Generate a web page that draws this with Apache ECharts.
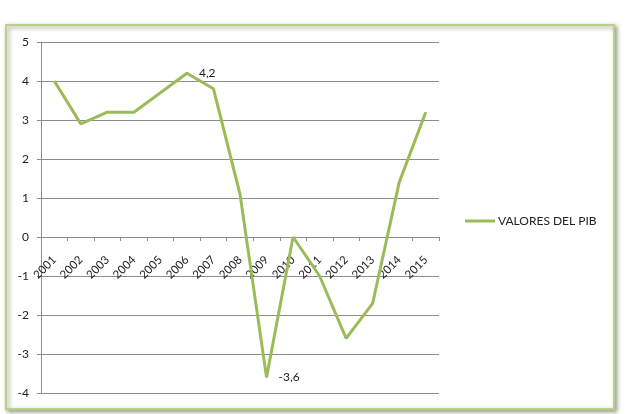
<!DOCTYPE html>
<html>
<head>
<meta charset="utf-8">
<script src="https://cdn.jsdelivr.net/npm/echarts@6/dist/echarts.min.js"></script>
<style>
  html, body { margin: 0; padding: 0; background: #fff; }
  #chart { width: 626px; height: 414px; }
</style>
</head>
<body>
<div id="chart"></div>
<script>
// data
const years = ["2001", "2002", "2003", "2004", "2005", "2006", "2007", "2008",
  "2009", "2010", "2011", "2012", "2013", "2014", "2015"];
const pib = [4.0, 2.9, 3.2, 3.2, 3.7, 4.2, 3.8, 1.1, -3.6, 0.0, -1.0, -2.6, -1.7, 1.4, 3.2];
const labeledYears = ["2006", "2009"];
const yTicks = { min: -4, max: 5, interval: 1 };

const green = "#9bbb59";
const textColor = "#222";
const font = "Lato, 'Open Sans', sans-serif";

const gridBox = { left: 41, right: 187, top: 42, bottom: 21 };
const plotHeight = 414 - gridBox.top - gridBox.bottom;
// the x axis sits on the zero line, like the Excel original
const zeroOffset = -plotHeight * (0 - yTicks.min) / (yTicks.max - yTicks.min);

const seriesData = pib.map((v, i) => {
  const item = { value: v };
  if (labeledYears.includes(years[i])) {
    item.label = { show: true };
  }
  return item;
});

const chart = echarts.init(document.getElementById("chart"));

const option = {
  backgroundColor: "#fff",
  animation: false,
  textStyle: { fontFamily: font },
  graphic: [
    {
      type: "rect",
      z: -10,
      shape: { x: 6, y: 25, width: 608, height: 384 },
      style: {
        fill: "#fff",
        stroke: "#b9cf8c",
        lineWidth: 2,
        shadowBlur: 4,
        shadowOffsetX: 2,
        shadowOffsetY: 2,
        shadowColor: "rgba(60,70,40,0.5)"
      }
    }
  ],
  grid: Object.assign({ outerBoundsMode: "none", containLabel: false }, gridBox),
  legend: {
    left: 460,
    top: 210,
    icon: "rect",
    itemWidth: 30,
    itemHeight: 3,
    itemGap: 3,
    textStyle: { color: textColor, fontSize: 12, fontFamily: font, padding: [0, 0, 0, -2] },
    data: ["VALORES DEL PIB"]
  },
  xAxis: {
    type: "category",
    data: years,
    boundaryGap: true,
    position: "bottom",
    offset: zeroOffset,
    axisLine: { onZero: false, lineStyle: { color: "#8c8c8c", width: 1 } },
    axisTick: { show: true, length: 4, lineStyle: { color: "#8c8c8c" } },
    axisLabel: {
      rotate: 45,
      interval: 0,
      margin: 21,
      color: textColor,
      fontSize: 11.5,
      fontFamily: font
    },
    splitLine: { show: false }
  },
  yAxis: {
    type: "value",
    min: yTicks.min,
    max: yTicks.max,
    interval: yTicks.interval,
    axisLine: { show: true, lineStyle: { color: "#8c8c8c", width: 1 } },
    axisTick: { show: true, length: 4, lineStyle: { color: "#8c8c8c" } },
    axisLabel: { color: textColor, fontSize: 12, margin: 12, fontFamily: font },
    splitLine: { lineStyle: { color: "#8c8c8c", width: 1 } }
  },
  series: [
    {
      name: "VALORES DEL PIB",
      type: "line",
      data: seriesData,
      symbol: "circle",
      symbolSize: 0,
      showSymbol: true,
      lineStyle: { color: green, width: 3 },
      itemStyle: { color: green },
      label: {
        show: false,
        position: "right",
        distance: 12,
        color: textColor,
        fontSize: 12,
        fontFamily: font,
        formatter: (p) => String(p.value).replace(".", ",")
      }
    }
  ]
};

chart.setOption(option);
</script>
</body>
</html>
